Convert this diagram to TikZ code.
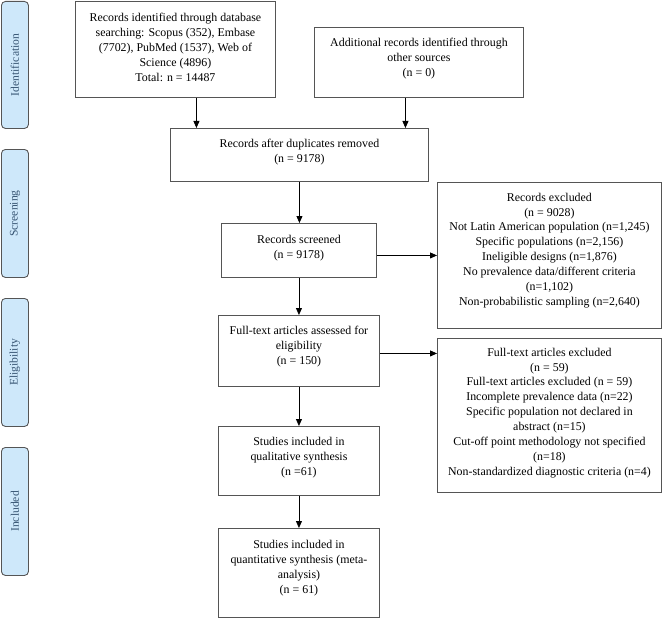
\documentclass[tikz,border=0pt]{standalone}
\usepackage{fontspec}
\setmainfont{Liberation Serif}
\usetikzlibrary{arrows.meta,calc}
\definecolor{boxline}{RGB}{85,85,85}
\definecolor{sidefill}{RGB}{206,232,250}
\definecolor{sidetext}{RGB}{55,85,115}
\begin{document}
\begin{tikzpicture}[x=1pt,y=-1pt,
  every node/.style={font=\fontsize{11.9}{14.9}\selectfont},
  flowbox/.style={draw=boxline,line width=0.9pt,align=center,inner sep=0pt,anchor=north west},
  sidebox/.style={draw=boxline,fill=sidefill,line width=0.9pt,rounded corners=4pt,inner sep=0pt,anchor=north west,minimum width=27pt,minimum height=127pt},
  sidelabel/.style={rotate=90,text=sidetext,font=\fontsize{11.6}{14}\selectfont},
  arr/.style={draw=black,line width=0.8pt,-{Triangle[length=7pt,width=6pt]}}]
\useasboundingbox (0,0) rectangle (662,618);

% side labels
\node[sidebox] (sid) at (1,1) {};
\node[sidelabel] at (sid.center) {Identification};
\node[sidebox,minimum height=128pt] (ssc) at (1,149) {};
\node[sidelabel] at (ssc.center) {Screening};
\node[sidebox,minimum height=128pt] (sel) at (1,298) {};
\node[sidelabel] at (sel.center) {Eligibility};
\node[sidebox,minimum height=128pt] (sin) at (1,447) {};
\node[sidelabel] at (sin.center) {Included};

% main boxes
\node[flowbox,minimum width=200pt,minimum height=96pt] (tl) at (75,1) {};
\node[align=center] at ($(tl.center)+(0,-2)$) {Records identified through database\\searching: Scopus (352), Embase\\(7702), PubMed (1537), Web of\\Science (4896)\\Total: n = 14487};

\node[flowbox,minimum width=209pt,minimum height=70pt] (tr) at (314,27) {};
\node[align=center] at ($(tr.center)+(0,-4)$) {Additional records identified through\\other sources\\(n = 0)};

\node[flowbox,minimum width=258pt,minimum height=53pt] (dup) at (170,128) {};
\node[align=center] at ($(dup.center)+(0,-3)$) {Records after duplicates removed\\(n = 9178)};

\node[flowbox,minimum width=155pt,minimum height=54pt] (scr) at (221,223) {};
\node[align=center] at ($(scr.center)+(0,-2)$) {Records screened\\(n = 9178)};

\node[flowbox,minimum width=161pt,minimum height=71pt] (ft) at (218,315) {};
\node[align=center] at ($(ft.center)+(0,-4)$) {Full-text articles assessed for\\eligibility\\(n = 150)};

\node[flowbox,minimum width=161pt,minimum height=69pt] (ql) at (218,426) {};
\node[align=center] at ($(ql.center)+(0,-3)$) {Studies included in\\qualitative synthesis\\(n =61)};

\node[flowbox,minimum width=161pt,minimum height=89pt] (qn) at (218,528) {};
\node[align=center] at ($(qn.center)+(0,-5)$) {Studies included in\\quantitative synthesis (meta-\\analysis)\\(n = 61)};

\node[flowbox,minimum width=224pt,minimum height=146pt] (ex1) at (437,182) {};
\node[align=center] at ($(ex1.center)+(0,-5)$) {Records excluded\\(n = 9028)\\Not Latin American population (n=1,245)\\Specific populations (n=2,156)\\Ineligible designs (n=1,876)\\No prevalence data/different criteria\\(n=1,102)\\Non-probabilistic sampling (n=2,640)};

\node[flowbox,minimum width=224pt,minimum height=154pt] (ex2) at (437,338) {};
\node[align=center] at ($(ex2.center)+(0,-2.5)$) {Full-text articles excluded\\(n = 59)\\Full-text articles excluded (n = 59)\\Incomplete prevalence data (n=22)\\Specific population not declared in\\abstract (n=15)\\Cut-off point methodology not specified\\(n=18)\\Non-standardized diagnostic criteria (n=4)};

% connectors
\draw[arr] ([xshift=21pt]tl.south) -- ([xshift=21pt]tl.south |- dup.north);
\draw[arr] ([xshift=-13.5pt]tr.south) -- ([xshift=-13.5pt]tr.south |- dup.north);
\draw[arr] (dup.south) -- (dup.south |- scr.north);
\draw[arr] (scr.south) -- (ft.north);
\draw[arr] (ft.south) -- (ql.north);
\draw[arr] (ql.south) -- (qn.north);
\draw[arr] ([yshift=-5pt]scr.east) -- ([yshift=-5pt]scr.east -| ex1.west);
\draw[arr] ([yshift=-2.5pt]ft.east) -- ([yshift=-2.5pt]ft.east -| ex2.west);
\end{tikzpicture}
\end{document}
